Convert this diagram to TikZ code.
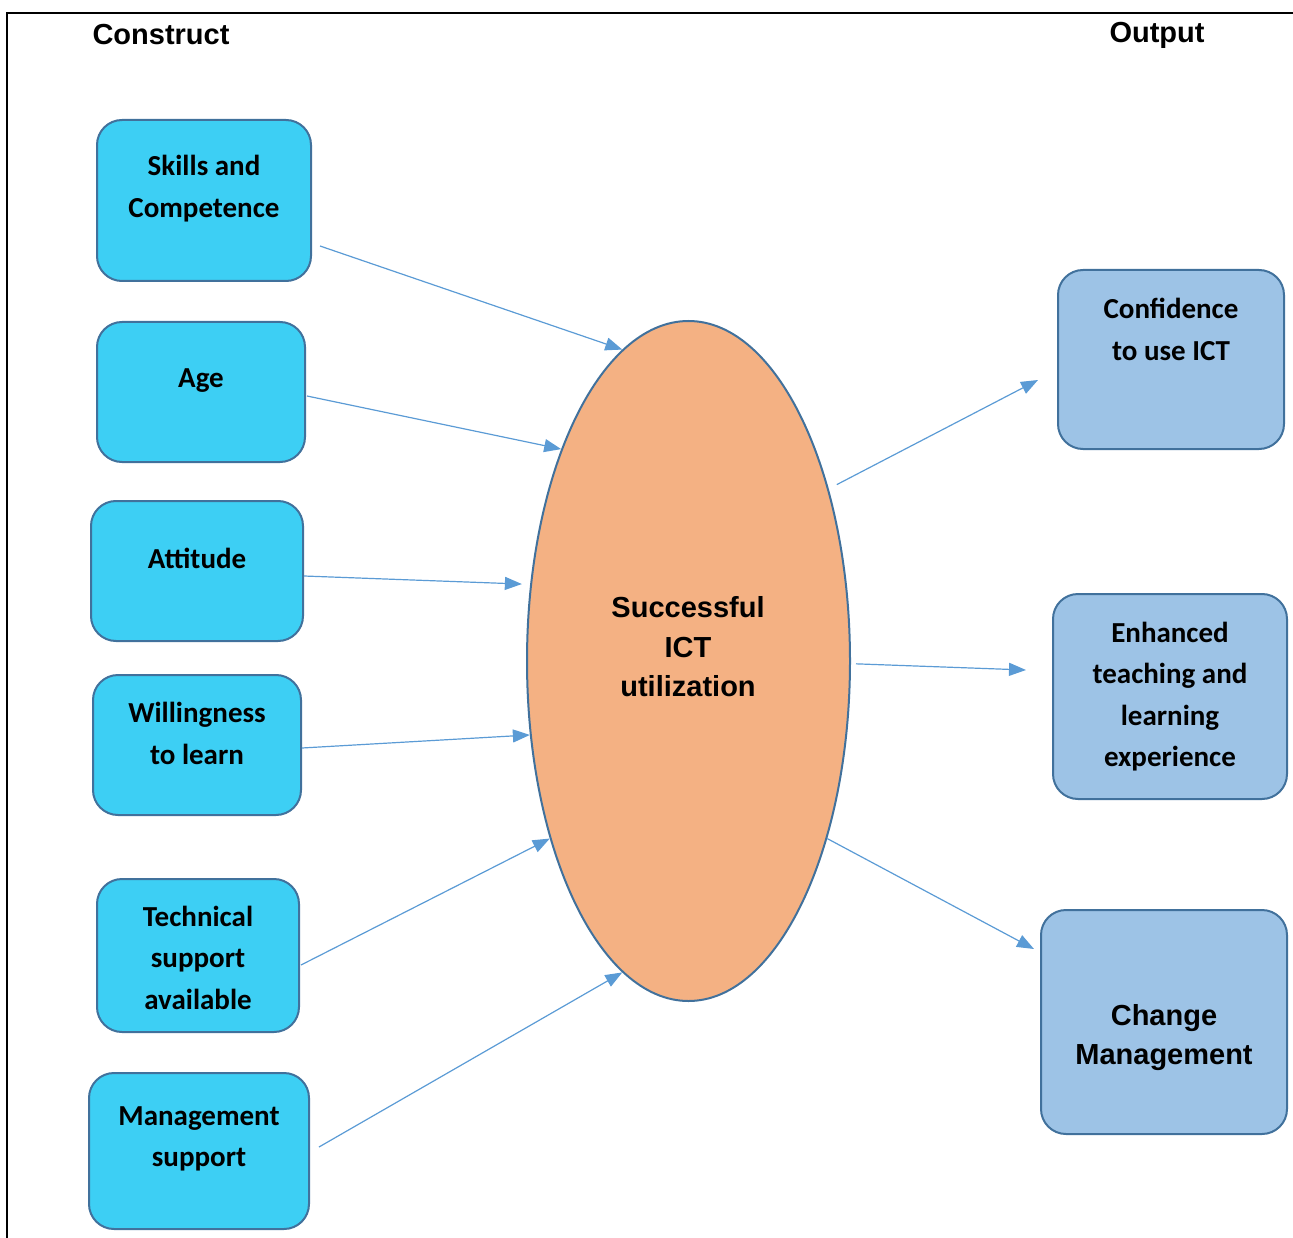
\documentclass[tikz,border=0pt]{standalone}
\usepackage{fontspec}
\setmainfont{Carlito}
\newfontfamily\arialfont{Liberation Sans}
\usetikzlibrary{arrows.meta,shapes.geometric}
\definecolor{cyanfill}{RGB}{61,207,244}
\definecolor{outfill}{RGB}{157,195,230}
\definecolor{ovalfill}{RGB}{244,177,131}
\definecolor{edgeblue}{RGB}{65,113,156}
\definecolor{arrowblue}{RGB}{91,155,213}
\begin{document}
\begin{tikzpicture}[x=1pt,y=-1pt,>={Triangle[length=17pt,width=13pt]},
	cbox/.style={draw=edgeblue,line width=2pt,fill=cyanfill,rounded corners=25pt,inner sep=0pt},
	obox/.style={cbox,fill=outfill},
	boxtext/.style={align=center,font=\fontsize{29}{41.5}\selectfont\bfseries,inner sep=0pt},
	headtext/.style={font=\fontsize{29}{39.5}\selectfont\arialfont\bfseries,align=center,inner sep=0pt},
	link/.style={->,arrowblue,line width=1.2pt}]
		\useasboundingbox (0,0) rectangle (1293,1238);
		\draw[line width=2pt] (7,1240) -- (7,13) -- (1295,13);
		\node[headtext] (construct) at (161,35) {Construct};
		\node[headtext] (output) at (1157,35) {Output};
		% construct boxes
		\node[cbox,minimum width=214,minimum height=161] (skills) at (204,200.5) {};
		\node[cbox,minimum width=208,minimum height=140] (age) at (201,392) {};
		\node[cbox,minimum width=212,minimum height=140] (attitude) at (197,571) {};
		\node[cbox,minimum width=208,minimum height=140] (willing) at (197,745) {};
		\node[cbox,minimum width=202,minimum height=153] (tech) at (198,955.5) {};
		\node[cbox,minimum width=220,minimum height=156] (mgmt) at (199,1151) {};
		\node[boxtext] (skills-t) at (204,188.5) {Skills and\\Competence};
		\node[boxtext] (age-t) at (201,380.5) {Age};
		\node[boxtext] (attitude-t) at (197,558.5) {Attitude};
		\node[boxtext] (willing-t) at (197,733.5) {Willingness\\to learn};
		\node[boxtext] (tech-t) at (198,957.5) {Technical\\support\\available};
		\node[boxtext] (mgmt-t) at (199,1139) {Management\\support};
		% centre
		\node[ellipse,draw=edgeblue,line width=2pt,fill=ovalfill,minimum width=323,minimum height=680,inner sep=0pt] (ict) at (688.5,661) {};
		\node[headtext] (ict-t) at (688,647) {Successful\\ICT\\utilization};
		% output boxes
		\node[obox,minimum width=226,minimum height=179] (conf) at (1171,359.5) {};
		\node[obox,minimum width=234,minimum height=205] (enh) at (1170,696.5) {};
		\node[obox,minimum width=246,minimum height=224] (change) at (1164,1022) {};
		\node[boxtext] (conf-t) at (1171,329.5) {Confidence\\to use ICT};
		\node[boxtext] (enh-t) at (1170,696.5) {Enhanced\\teaching and\\learning\\experience};
		\node[headtext] (change-t) at (1164,1037.5) {Change\\Management};
		% arrows
		\draw[link] ([shift={(8,45.5)}]skills.east) -- (ict.102.5);
		\draw[link] ([shift={(1,4)}]age.east) -- (ict.121);
		\draw[link] ([shift={(0,5)}]attitude.east) -- ([shift={(-8,-3)}]ict.155.3);
		\draw[link] ([shift={(0,3)}]willing.east) -- (ict.205.6);
		\draw[link] ([shift={(1,9.5)}]tech.east) -- (ict.232.9);
		\draw[link] ([shift={(9,-4)}]mgmt.east) -- (ict.258.6);
		\draw[link] ([shift={(7,-8)}]ict.50.2) -- ([shift={(-19,20.5)}]conf.west);
		\draw[link] ([shift={(5,0)}]ict.-1.7) -- ([shift={(-26,-26.5)}]enh.west);
		\draw[link] (ict.-52.7) -- ([shift={(-6,-73)}]change.west);
\end{tikzpicture}
\end{document}
